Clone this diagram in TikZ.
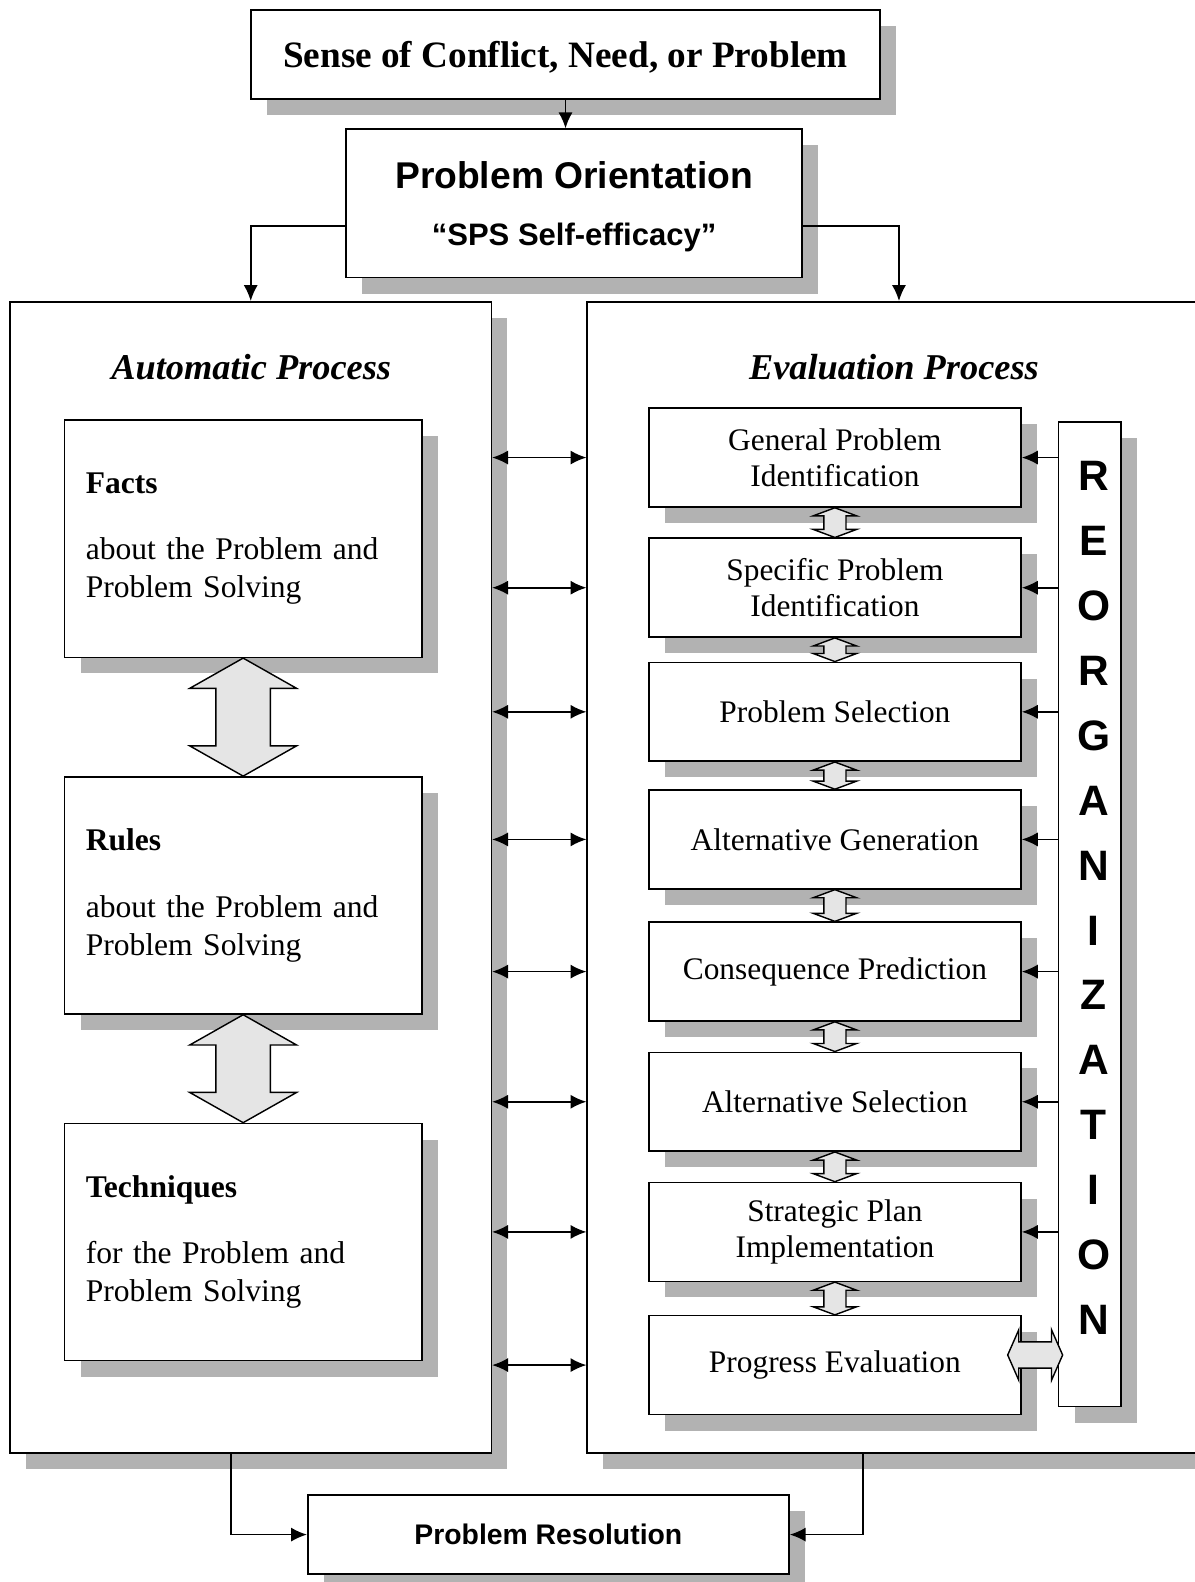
\documentclass[tikz,border=0pt]{standalone}
\usepackage{fontspec}
\setmainfont{Liberation Serif}
\setsansfont{Liberation Sans}
\usetikzlibrary{arrows.meta,calc,shadows}

\newcommand{\vblock}[5]{%
 \draw[blockarrow] (#1.south) -- ++(#4,#5) -- ++(#3-#4,0) -- ($(#2.north)+(#3,-#5)$) -- ++(#4-#3,0)
 -- (#2.north) -- ++(-#4,-#5) -- ++(#4-#3,0) -- ($(#1.south)+(-#3,#5)$) -- ++(#3-#4,0) -- cycle;}

\begin{document}
\begin{tikzpicture}[x=0.02cm, y=-0.02cm, >={Latex[length=9pt,width=8pt]},
 shadowed/.style={drop shadow={shadow xshift=0.32cm, shadow yshift=-0.32cm, opacity=1, fill=black!30}},
 panel/.style={draw, line width=0.9pt, fill=white, shadowed, inner sep=0pt},
 know/.style={panel, minimum width=7.08cm, minimum height=4.7cm, text width=6.24cm, align=left,
 font=\fontsize{17.8}{21.5}\selectfont},
 stage/.style={panel, minimum width=7.38cm, minimum height=1.96cm, align=center,
 font=\fontsize{17.7}{20.4}\selectfont},
 title/.style={font=\bfseries\itshape\fontsize{20.5}{24}\selectfont},
 blockarrow/.style={draw, fill=black!10, line width=0.8pt, line join=miter},
 edge/.style={->,line width=1pt},
 both/.style={<->,line width=1pt}]
\useasboundingbox (0,0) rectangle (1184,1568);
\node[panel, text depth=0pt, font=\bfseries\fontsize{21}{24}\selectfont, minimum width=12.46cm, minimum height=1.76cm] (sense) at (560.5,54) {Sense of Conflict, Need, or Problem};
\node[panel, align=center, text depth=0pt, font=\sffamily\bfseries\fontsize{21}{32}\selectfont, minimum width=9.04cm, minimum height=2.94cm] (orient) at (569,201.5) {Problem Orientation\\\fontsize{17.5}{32}\selectfont “SPS Self-efficacy”};
\node[panel, minimum width=9.54cm, minimum height=22.82cm] (auto) at (248.5,869.5) {};
\node[panel, minimum width=12.36cm, minimum height=22.82cm] (eval) at (891,869.5) {};
\node[title] (autotitle) at (249,364) {Automatic Process};
\node[title] (evaltitle) at (886,364) {Evaluation Process};
\node[know] (facts) at (241,534) {\textbf{Facts}\\[16pt]about the Problem and\\Problem Solving};
\node[know] (rules) at (241,887.5) {\textbf{Rules}\\[16pt]about the Problem and\\Problem Solving};
\node[know] (tech) at (241,1231) {\textbf{Techniques}\\[16pt]for the Problem and\\Problem Solving};
\node[stage] (gen) at (827.5,453.5) {General Problem\\Identification};
\node[stage] (spec) at (827.5,582.5) {Specific Problem\\Identification};
\node[stage] (select) at (827.5,705.5) {Problem Selection};
\node[stage] (altgen) at (827.5,832) {Alternative Generation};
\node[stage] (conseq) at (827.5,963) {Consequence Prediction};
\node[stage] (altsel) at (827.5,1092) {Alternative Selection};
\node[stage] (plan) at (827.5,1221) {Strategic Plan\\Implementation};
\node[stage] (progress) at (827.5,1353) {Progress Evaluation};
\node[panel, minimum width=1.24cm, minimum height=19.52cm] (reorg) at (1080,906) {};
\node[align=center, inner sep=0pt, font=\sffamily\bfseries\fontsize{24}{36.6}\selectfont] (reotext) at (1084,890) {R\\E\\O\\R\\G\\A\\N\\I\\Z\\A\\T\\I\\O\\N};
\node[panel, font=\sffamily\bfseries\fontsize{16}{19}\selectfont, minimum width=9.54cm, minimum height=1.56cm] (resol) at (543.5,1521) {Problem Resolution};
\draw[edge] (sense.south) -- (sense.south |- orient.north);
\draw[edge] ([yshift=-0.45cm]orient.west) -| (auto.north);
\draw[edge] ([yshift=-0.45cm]orient.east) -| (eval.north);
\draw[edge] ([xshift=-0.39cm]auto.south) |- (resol.west);
\draw[edge] ([xshift=-0.72cm]eval.south) |- (resol.east);
\foreach \s in {gen,spec,select,altgen,conseq,altsel,plan,progress}
 \draw[both] (auto.east |- \s) -- (eval.west |- \s);
\foreach \s in {gen,spec,select,altgen,conseq,altsel,plan}
 \draw[edge] (reorg.west |- \s) -- (\s.east);
\vblock{facts}{rules}{27}{53}{30}
\vblock{rules}{tech}{27}{53}{30}
\foreach \a/\b in {gen/spec,spec/select,select/altgen,altgen/conseq,conseq/altsel,altsel/plan,plan/progress}
 {\vblock{\a}{\b}{11}{21.5}{8}}
\coordinate (pl) at ([xshift=-0.28cm,yshift=0.2cm]progress.east);
\coordinate (pr) at ([xshift=0.1cm]reorg.west |- pl);
\draw[blockarrow] (pl) -- ++(11,-25) -- ++(0,12) -- ($(pr)+(-11,-13)$) -- ++(0,-12) -- (pr)
 -- ++(-11,25) -- ++(0,-12) -- ($(pl)+(11,13)$) -- ++(0,12) -- cycle;
\end{tikzpicture}
\end{document}
